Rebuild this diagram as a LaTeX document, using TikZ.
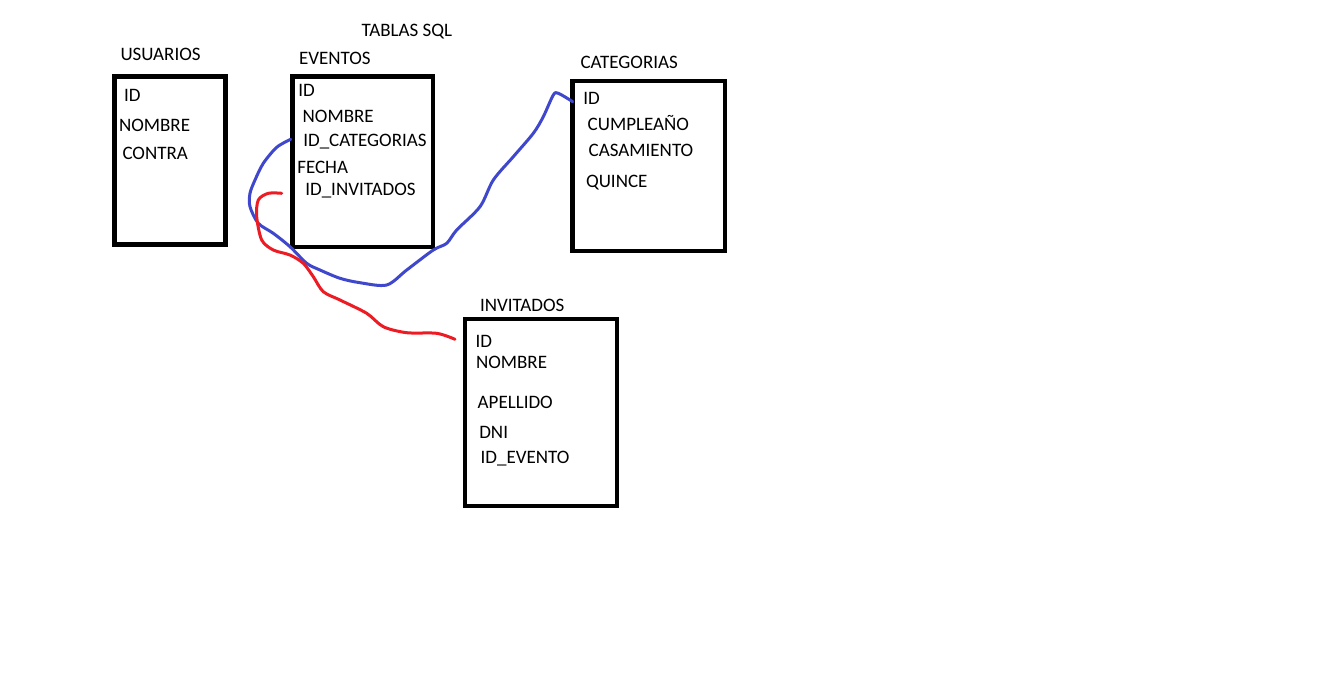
\documentclass[tikz,border=0pt]{standalone}
\usepackage{fontspec}
\setmainfont{Carlito}
\definecolor{pblue}{HTML}{3F48CC}
\definecolor{pred}{HTML}{ED1C24}
\begin{document}
\begin{tikzpicture}[x=1pt,y=-1pt,
  tbl/.style={draw=black,line width=4.6pt,inner sep=0pt,outer sep=0pt},
  lbl/.style={anchor=base west,inner sep=0pt,outer sep=0pt,font=\fontsize{19}{22}\selectfont},
  bluewire/.style={draw=pblue,line width=3pt,line cap=round,line join=round},
  redwire/.style={draw=pred,line width=3pt,line cap=round,line join=round}]
\useasboundingbox[fill=white] (0,0) rectangle (1343,694);
% title
\node[lbl] (title) at (361.5,36.5) {TABLAS SQL};
% USUARIOS
\node[lbl] (tusu) at (120.5,60) {USUARIOS};
\node[tbl,minimum width=111pt,minimum height=168pt] (usu) at (170,160.5) {};
\node[lbl] (u1) at (124,101.5) {ID};
\node[lbl] (u2) at (119,131) {NOMBRE};
\node[lbl] (u3) at (122.5,159.5) {CONTRA};
% EVENTOS
\node[lbl] (tev) at (299,64) {EVENTOS};
\node[tbl,minimum width=140.5pt,minimum height=170.5pt] (ev) at (362.75,161.75) {};
\node[lbl] (e1) at (298.3,96.7) {ID};
\node[lbl] (e2) at (302.7,122.3) {NOMBRE};
\node[lbl] (e3) at (303.3,146) {ID\_CATEGORIAS};
\node[lbl] (e4) at (297.3,173.3) {FECHA};
\node[lbl] (e5) at (305.3,195) {ID\_INVITADOS};
% CATEGORIAS
\node[lbl] (tcat) at (580.5,68.3) {CATEGORIAS};
\node[tbl,minimum width=152.5pt,minimum height=170pt] (cat) at (648.75,166) {};
\node[lbl] (c1) at (583.3,104) {ID};
\node[lbl] (c2) at (587.7,130.7) {CUMPLEAÑO};
\node[lbl] (c3) at (588.7,156) {CASAMIENTO};
\node[lbl] (c4) at (586,187.7) {QUINCE};
% INVITADOS
\node[lbl] (tinv) at (480,311.7) {INVITADOS};
\node[tbl,minimum width=152pt,minimum height=187pt] (inv) at (541,412.5) {};
\node[lbl] (i1) at (475.7,347.3) {ID};
\node[lbl] (i2) at (476,368.3) {NOMBRE};
\node[lbl] (i3) at (477.7,408.3) {APELLIDO};
\node[lbl] (i4) at (479.3,438.7) {DNI};
\node[lbl] (i5) at (480.7,463.3) {ID\_EVENTO};
% connector ends
\coordinate (bstart) at (290.7,139.3);
\coordinate (bend) at (572.7,101.7);
\coordinate (rstart) at (281.7,193.3);
\coordinate (rend) at (455,339.3);
% blue connector EVENTOS.ID_CATEGORIAS -> CATEGORIAS.ID
\draw[bluewire] plot[smooth,tension=0.5] coordinates {(bstart) (276.7,147.3) (263.3,163.3) (255,180) (250,193.3) (250,206.7) (258.3,223.3) (273.3,233.3) (290,246.7) (306.7,263.3) (320,270) (340,278.3) (360,282.7) (386.7,285) (406.7,270) (433.3,250) (446.7,243.3) (456.7,230) (480,206.7) (493.3,180) (513.3,156.7) (533.3,133.3) (543.3,116.7) (553.3,95) (558.3,93.3) (bend)};
% red connector EVENTOS.ID_INVITADOS -> INVITADOS.ID
\draw[redwire] plot[smooth,tension=0.5] coordinates {(rstart) (268.3,193.3) (258.3,200) (256.7,216.7) (261.7,240) (273.3,250) (290,255) (303.3,263.3) (313.3,276.7) (323.3,291.7) (340,300) (366.7,313.3) (383.3,326.7) (406.7,332.7) (436.7,333.3) (rend)};
\end{tikzpicture}
\end{document}
